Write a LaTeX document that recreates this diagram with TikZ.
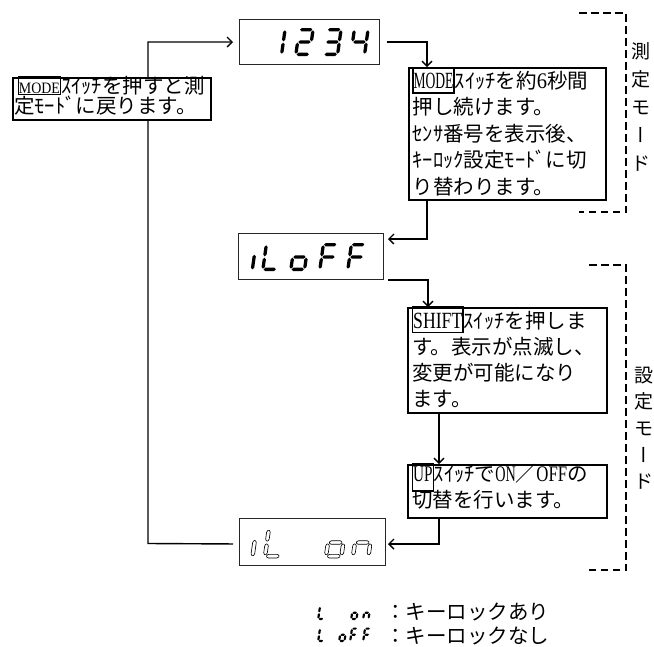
\documentclass[tikz,border=0pt]{standalone}
\usepackage{fontspec}
\usepackage{graphicx}
\setmainfont{Liberation Serif}
\newfontfamily\jp{Noto Sans CJK JP}
\usetikzlibrary{arrows.meta}
\newcommand\hw[3]{\resizebox{#1}{#2}{\rmfamily #3}}
\newcommand\kf[3]{{\setlength\fboxsep{0pt}\setlength\fboxrule{1.3pt}\fbox{\rule[-#1]{0pt}{#2}#3}}}
\newcommand\vst{\rule[-0.12em]{0pt}{1em}}
\newcommand\vbar{\rotatebox[origin=c]{-90}{\makebox[1em]{\rule[-0.12em]{0pt}{1em}ー}}}
% hexagonal segments: horizontal (x0,x1,y,style) and vertical (x,y0,y1,style)
\newcommand\hexh[4]{\path[#4] ({#1},{#3}) -- ({#1+\sT/2},{#3-\sT/2}) -- ({#2-\sT/2},{#3-\sT/2}) -- ({#2},{#3}) -- ({#2-\sT/2},{#3+\sT/2}) -- ({#1+\sT/2},{#3+\sT/2}) -- cycle;}
\newcommand\hexv[4]{\path[#4] ({#1},{#2}) -- ({#1+\sT/2},{#2+\sT/2}) -- ({#1+\sT/2},{#3-\sT/2}) -- ({#1},{#3}) -- ({#1-\sT/2},{#3-\sT/2}) -- ({#1-\sT/2},{#2+\sT/2}) -- cycle;}
\newcommand\sega[1]{\hexh{\sT/2+\sG}{\sW-\sT/2-\sG}{-\sH+\sT/2}{#1}}
\newcommand\segb[1]{\hexv{\sW-\sT/2}{-\sH+\sT/2+\sG}{-\sH/2-\sG}{#1}}
\newcommand\segc[1]{\hexv{\sW-\sT/2}{-\sH/2+\sG}{-\sT/2-\sG}{#1}}
\newcommand\segd[1]{\hexh{\sT/2+\sG}{\sW-\sT/2-\sG}{-\sT/2}{#1}}
\newcommand\sege[1]{\hexv{\sT/2}{-\sH/2+\sG}{-\sT/2-\sG}{#1}}
\newcommand\segf[1]{\hexv{\sT/2}{-\sH+\sT/2+\sG}{-\sH/2-\sG}{#1}}
\newcommand\segg[1]{\hexh{\sT/2+\sG}{\sW-\sT/2-\sG}{-\sH/2}{#1}}
\newcommand\segi[1]{\hexv{\sT/2}{-0.58*\sH}{-\sT/2}{#1}}
\newcommand\sevdig[8]{\begin{scope}[shift={(#1,#2)},xslant=0.14]%
  \def\sW{#3}\def\sH{#4}\def\sT{#5}\def\sG{#6}%
  \foreach \sg in {#8}{\csname seg\sg\endcsname{#7}}%
  \end{scope}}
\begin{document}
\begin{tikzpicture}[x=1pt,y=-1pt,
  tbox/.style={draw=black, line width=1.5pt, fill=white, inner sep=0pt, anchor=north west},
  dbox/.style={draw=black!85, line width=1pt, inner sep=0pt, anchor=north west},
  txt/.style={anchor=base west, inner sep=0pt, font=\jp\fontsize{20.5}{26}\selectfont},
  vlab/.style={inner sep=0pt, align=center},
  conn/.style={line width=1.4pt, -{Straight Barb[length=5pt,width=10pt]}},
  brk/.style={line width=1.4pt, dash pattern=on 7.5pt off 4.5pt},
  segfill/.style={fill=black},
  segline/.style={draw=black, fill=white, line width=0.65pt, rounded corners=0.8pt}]
\useasboundingbox (0,0) rectangle (654,646);

% displays
\node[dbox, minimum width=140pt, minimum height=45pt] (D1) at (239,19) {};
\node[dbox, minimum width=145pt, minimum height=46pt] (D2) at (238,233) {};
\node[dbox, minimum width=146pt, minimum height=47pt] (D3) at (239,518) {};

% return loop
\coordinate (c1) at (148,543.5);
\draw[conn, shorten <=6pt, shorten >=6pt] ([yshift=-2pt]D3.west) -- (c1) |- (D1.west);

% text boxes
\node[tbox, minimum width=198pt, minimum height=42pt] (L) at (12,77) {};
\node[tbox, minimum width=197pt, minimum height=132pt] (M) at (408,67) {};
\node[tbox, minimum width=199pt, minimum height=105pt] (S) at (407,307) {};
\node[tbox, minimum width=199pt, minimum height=53pt] (U) at (407,464) {};

% connectors
\draw[conn, shorten <=7pt] (D1.east) -| ([xshift=19pt]M.north west);
\draw[conn, shorten >=4pt] ([xshift=19pt]M.south west) |- ([yshift=-6pt]D2.north east);
\draw[conn, shorten <=4pt] (D2.south east) -| ([xshift=21pt]S.north west);
\draw[conn] ([xshift=32pt]S.south west) -- ([xshift=32pt]U.north west);
\draw[conn, shorten >=2pt] ([xshift=32pt]U.south west) |- ([yshift=-2pt]D3.east);

% texts
\node[txt] (Lt1) at (17.4,93.5) {\kf{0pt}{16pt}{\hw{2em}{10.5pt}{MODE}}ｽｲｯﾁを押すと測};
\node[txt] (Lt2) at (14,113.5) {定ﾓｰﾄﾞに戻ります。};

\node[txt] (Mt1) at (412,88) {\kf{4.35pt}{23.7pt}{\hw{1.95em}{0.75em}{MODE}}ｽｲｯﾁを約\hw{0.5em}{0.72em}{6}秒間};
\node[txt] (Mt2) at (412.5,114.5) {押し続けます。};
\node[txt] (Mt3) at (412.5,141) {ｾﾝｻ番号を表示後、};
\node[txt] (Mt4) at (412.5,167.5) {ｷｰﾛｯｸ設定ﾓｰﾄﾞに切};
\node[txt] (Mt5) at (412.5,194) {り替わります。};

\node[txt] (St1) at (411.7,328) {\kf{4pt}{24.5pt}{\hw{2.4em}{0.75em}{SHIFT}}ｽｲｯﾁを押しま};
\node[txt] (St2) at (412,354) {す。表示が点滅し、};
\node[txt] (St3) at (412,380.5) {変更が可能になり};
\node[txt] (St4) at (412,406) {ます。};

\node[txt] (Ut1) at (411.7,481) {\kf{9.35pt}{25.7pt}{\hw{0.95em}{0.72em}{UP}}ｽｲｯﾁで\hw{1em}{0.72em}{ON}／\hw{1.5em}{0.72em}{OFF}の};
\node[txt] (Ut2) at (412,507.5) {切替を行います。};

% mode brackets
\draw[brk] (579,13) -- (626,13) -- (626,212) -- (579,212);
\draw[brk] (589,265) -- (626,265) -- (626,570) -- (589,570);
\node[vlab, font=\jp\fontsize{19}{28}\selectfont] (V1) at (641,107) {\vst 測\\\vst 定\\\vst モ\\\vst\vbar\\\vst ド};
\node[vlab, font=\jp\fontsize{19}{26.5}\selectfont] (V2) at (644,428) {\vst 設\\\vst 定\\\vst モ\\\vst\vbar\\\vst ド};

% display digits
\sevdig{266}{56}{17}{28}{3.3}{0.7}{segfill}{b,c}
\sevdig{294}{56}{17}{28}{3.3}{0.7}{segfill}{a,b,g,e,d}
\sevdig{322}{56}{17}{28}{3.3}{0.7}{segfill}{a,b,g,c,d}
\sevdig{349}{56}{17}{28}{3.3}{0.7}{segfill}{f,g,b,c}

\sevdig{250.5}{271}{17}{28}{3.3}{0.7}{segfill}{i}
\sevdig{261}{271}{17}{28}{3.3}{0.7}{segfill}{f,e,d}
\sevdig{289}{271}{17}{28}{3.3}{0.7}{segfill}{g,c,d,e}
\sevdig{318}{271}{17}{28}{3.3}{0.7}{segfill}{a,f,g,e}
\sevdig{346}{271}{17}{28}{3.3}{0.7}{segfill}{a,f,g,e}

\sevdig{250.5}{558}{19}{31}{3.6}{1}{segline}{i}
\sevdig{263}{558}{19}{31}{3.6}{1}{segline}{f,e,d}
\sevdig{324}{558}{19}{31}{3.6}{1}{segline}{g,c,d,e}
\sevdig{351}{558}{19}{31}{3.6}{1}{segline}{g,c,e}

% legend
\sevdig{317}{620}{7.5}{14.5}{2.2}{0.45}{segfill}{f,e,d}
\sevdig{350}{620}{7.5}{14.5}{2.2}{0.45}{segfill}{g,c,d,e}
\sevdig{362}{620}{7.5}{14.5}{2.2}{0.45}{segfill}{g,c,e}
\sevdig{317}{642}{7.5}{14.5}{2.2}{0.45}{segfill}{f,e,d}
\sevdig{338}{642}{7.5}{14.5}{2.2}{0.45}{segfill}{g,c,d,e}
\sevdig{349}{642}{7.5}{14.5}{2.2}{0.45}{segfill}{a,f,g,e}
\sevdig{362}{642}{7.5}{14.5}{2.2}{0.45}{segfill}{a,f,g,e}
\node[txt] (K1) at (385,619) {：キーロックあり};
\node[txt] (K2) at (385,643) {：キーロックなし};
\end{tikzpicture}
\end{document}
